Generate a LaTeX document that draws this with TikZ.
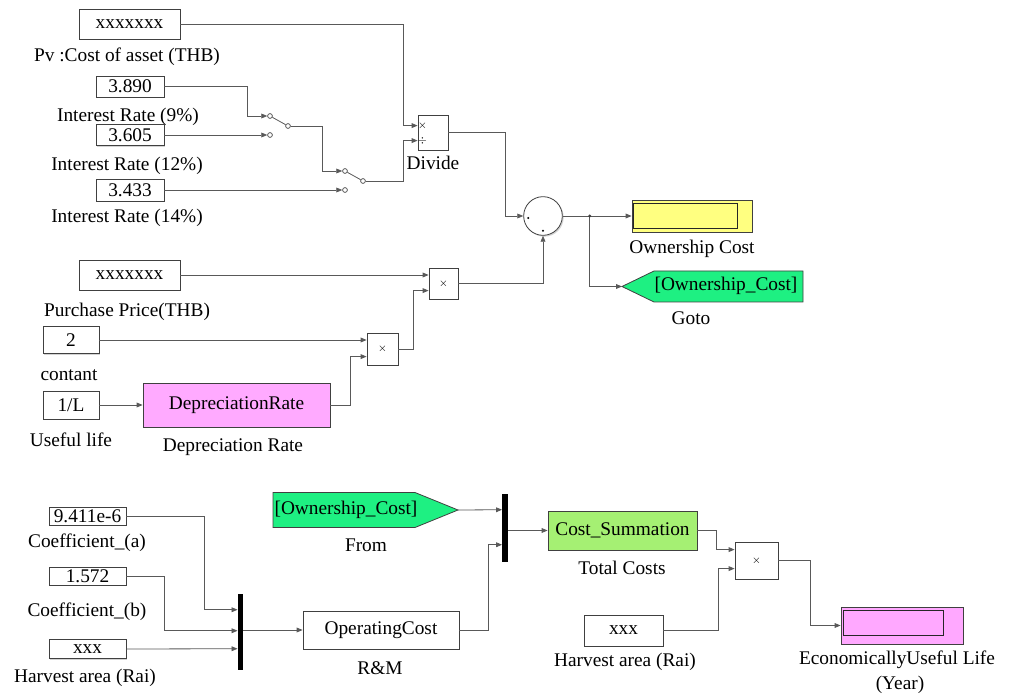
\documentclass[tikz,border=0pt]{standalone}
\usepackage{fontspec}
\setmainfont{Liberation Serif}
\usetikzlibrary{arrows.meta,calc,shadows}
\definecolor{dispyellow}{RGB}{255,255,128}
\definecolor{gotogreen}{RGB}{30,240,130}
\definecolor{deppink}{RGB}{255,170,255}
\definecolor{sumgreen}{RGB}{165,240,115}
\definecolor{disppink}{RGB}{255,168,255}
\begin{document}
\begin{tikzpicture}[x=0.75pt,y=0.75pt,yscale=-1,xscale=1,
	font=\fontsize{14.5}{16}\selectfont,
	blk/.style 2 args={draw=black!75, line width=0.6pt, fill=white, inner sep=0pt, minimum width=#1*0.75pt, minimum height=#2*0.75pt,
		drop shadow={shadow xshift=1pt, shadow yshift=-1pt, opacity=0.35}},
	sig/.style={draw=black!65, line width=0.6pt, -{Triangle[length=4.5pt,width=3.6pt]}},
	wire/.style={draw=black!65, line width=0.6pt},
	lbl/.style={inner sep=0pt},
	swc/.style={circle, draw=black!75, line width=0.5pt, fill=white, inner sep=0pt, minimum size=3.6pt},
	muxbar/.style={fill=black, inner sep=0pt, minimum width=4pt, minimum height=#1*0.75pt},
	sgn/.style={font=\fontsize{8.5}{9}\selectfont, inner sep=0pt}]
			\useasboundingbox (0,0) rectangle (1017,698);
			\node[blk={101}{30}] (pv) at (129.5,24) {xxxxxxx};
			\node[lbl] (pvl) at (127,57) {Pv :Cost of asset (THB)};
			\node[blk={68}{21}] (r9) at (130,86.5) {3.890};
			\node[lbl] (r9l) at (128,117) {Interest Rate (9\%)};
			\node[blk={68}{21}] (r12) at (130,135) {3.605};
			\node[lbl] (r12l) at (127,166) {Interest Rate (12\%)};
			\node[blk={68}{22}] (r14) at (130,190) {3.433};
			\node[lbl] (r14l) at (127,218) {Interest Rate (14\%)};
			\node[swc] (s1a) at (270,116) {};
			\node[swc] (s1b) at (270,135) {};
			\node[swc] (s1o) at (288,126) {};
			\node[swc] (s2a) at (345,171) {};
			\node[swc] (s2b) at (345,190) {};
			\node[swc] (s2o) at (363,181) {};
			\draw[wire] (s1a) -- (s1o);
			\draw[wire] (s2a) -- (s2o);
			\node[blk={30}{35}] (dv) at (433,132.5) {};
			\coordinate (dv-in1) at ($(dv.north west)+(0,11)$);
			\coordinate (dv-in2) at ($(dv.north west)+(0,26)$);
			\node[sgn] (dvs1) at ($(dv-in1)+(5,0)$) {$\times$};
			\node[sgn] (dvs2) at ($(dv-in2)+(5,0)$) {$\div$};
			\node[lbl] (dvl) at (433,163) {Divide};
			\draw[sig] (pv.east) -- ++(223,0) |- (dv-in1);
			\draw[sig] (r9.east) -- ++(83,0) |- (s1a.west);
			\draw[sig] (r12.east) -- (s1b.west);
			\draw[sig] (s1o.east) -- ++(32,0) |- (s2a.west);
			\draw[sig] (r14.east) -- (s2b.west);
			\draw[sig] (s2o.east) -- ++(38,0) |- (dv-in2);
			\node[circle, draw=black!75, line width=0.6pt, fill=white, minimum size=29pt, inner sep=0pt,
				drop shadow={shadow xshift=1pt, shadow yshift=-1pt, opacity=0.35}] (sum) at (543,216) {};
			\node[circle, fill=black, inner sep=0pt, minimum size=1.6pt] (sd1) at ($(sum.west)+(5,2)$) {};
			\node[circle, fill=black, inner sep=0pt, minimum size=1.6pt] (sd2) at ($(sum.south)+(0,-5)$) {};
			\draw[sig] (dv.east) -- ++(57,0) |- (sum.west);
			\node[blk={120}{32}, fill=dispyellow] (d1) at (692,216) {};
			\node[blk={104}{25}, fill=dispyellow, draw=black!85] (d1i) at (685,215.5) {};
			\node[lbl] (d1l) at (692,249) {Ownership Cost};
			\coordinate (br) at ($(sum.east)+(27,0)$);
			\coordinate (gotoTip) at (622,286.5);
			\draw[draw=black!75, line width=0.6pt, fill=gotogreen] (gotoTip) -- (654,271) -- (803,271) -- (803,302) -- (654,302) -- cycle;
			\node[lbl] (gotot) at (726,286) {[Ownership\_Cost]};
			\node[lbl] (gotol) at (691,318) {Goto};
			\draw[wire] (sum.east) -- (br);
			\draw[sig] (br) -- (d1.west);
			\draw[sig] (br) |- (gotoTip);
			\fill[black!75] (br) circle (1.6);
			\node[blk={101}{30}] (pp) at (129.5,275) {xxxxxxx};
			\node[lbl] (ppl) at (127,312) {Purchase Price(THB)};
			\node[blk={29}{31}] (p1) at (443.5,283.5) {};
			\node[sgn] (p1s) at (p1) {$\times$};
			\coordinate (p1-in2) at ($(p1.north west)+(0,23)$);
			\draw[sig] (pp.east) -- (p1.west |- pp.east);
			\draw[sig] (p1.east) -| (sum.south);
			\node[blk={56}{27}] (c2) at (71,340) {2};
			\node[lbl] (c2l) at (69,375) {contant};
			\node[blk={31}{32}] (p2) at (382.5,349) {};
			\node[sgn] (p2s) at (p2) {$\times$};
			\coordinate (p2-in2) at ($(p2.north west)+(0,24)$);
			\draw[sig] (c2.east) -- (p2.west |- c2.east);
			\draw[sig] (p2.east) -- ++(15,0) |- (p1-in2);
			\node[blk={56}{28}] (ul) at (71,405) {1/L};
			\node[lbl] (ull) at (71,440) {Useful life};
			\node[blk={187}{44}, fill=deppink] (dep) at (236.5,405) {DepreciationRate};
			\node[lbl] (depl) at (233,447) {Depreciation Rate};
			\draw[sig] (ul.east) -- (dep.west);
			\draw[sig] (dep.east) -- ++(20,0) |- (p2-in2);
			\node[blk={77}{18}] (ca) at (87.5,516) {9.411e-6};
			\node[lbl] (cal) at (87,543) {Coefficient\_(a)};
			\node[blk={77}{18}] (cb) at (87.5,576) {1.572};
			\node[lbl] (cbl) at (87,612) {Coefficient\_(b)};
			\node[blk={77}{19}] (ha) at (87.5,649) {xxx};
			\node[lbl] (hal) at (85,678) {Harvest area (Rai)};
			\node[muxbar=76] (m1) at (240.5,632) {};
			\coordinate (m1-in1) at ($(m1.north west)+(0,16)$);
			\coordinate (m1-in2) at ($(m1.north west)+(0,37)$);
			\coordinate (m1-in3) at ($(m1.north west)+(0,55)$);
			\draw[sig] (ca.east) -- ++(78,0) |- (m1-in1);
			\draw[sig] (cb.east) -- ++(38,0) |- (m1-in2);
			\draw[sig] (ha.east) -- (m1-in3);
			\node[blk={156}{38}] (oc) at (381,630) {OperatingCost};
			\node[lbl] (ocl) at (380,668) {R\&M};
			\draw[sig] (m1.east |- oc.west) -- (oc.west);
			\coordinate (fromTip) at (458,510);
			\draw[draw=black!75, line width=0.6pt, fill=gotogreen] (273,492.5) -- (415,492.5) -- (fromTip) -- (415,527.5) -- (273,527.5) -- cycle;
			\node[lbl] (fromt) at (346,510) {[Ownership\_Cost]};
			\node[lbl] (froml) at (366,545) {From};
			\node[muxbar=68] (m2) at (505,528) {};
			\coordinate (m2-in1) at ($(m2.north west)+(0,16)$);
			\coordinate (m2-in2) at ($(m2.north west)+(0,51)$);
			\draw[sig] (fromTip) -- (m2-in1);
			\draw[sig] (oc.east) -- ++(29,0) |- (m2-in2);
			\node[blk={149}{39}, fill=sumgreen] (cs) at (622.5,530.5) {Cost\_Summation};
			\node[lbl] (csl) at (622,568) {Total Costs};
			\draw[sig] (m2.east |- cs.west) -- (cs.west);
			\node[blk={43}{37}] (p3) at (756.5,560.5) {};
			\node[sgn] (p3s) at (p3) {$\times$};
			\coordinate (p3-in1) at ($(p3.north west)+(0,8)$);
			\coordinate (p3-in2) at ($(p3.north west)+(0,27)$);
			\draw[sig] (cs.east) -- ++(19,0) |- (p3-in1);
			\node[blk={79}{31}] (hb) at (623.5,630.5) {xxx};
			\node[lbl] (hbl) at (625,662) {Harvest area (Rai)};
			\draw[sig] (hb.east) -- ++(55,0) |- (p3-in2);
			\node[blk={122}{37}, fill=disppink] (d2) at (902,625.5) {};
			\node[blk={100}{25}, fill=disppink, draw=black!85] (d2i) at (893,622.5) {};
			\node[lbl] (d2l) at (897,660) {EconomicallyUseful Life};
			\node[lbl] (d2l2) at (900,685) {(Year)};
			\draw[sig] (p3.east) -- ++(32,0) |- (d2.west);
\end{tikzpicture}
\end{document}
